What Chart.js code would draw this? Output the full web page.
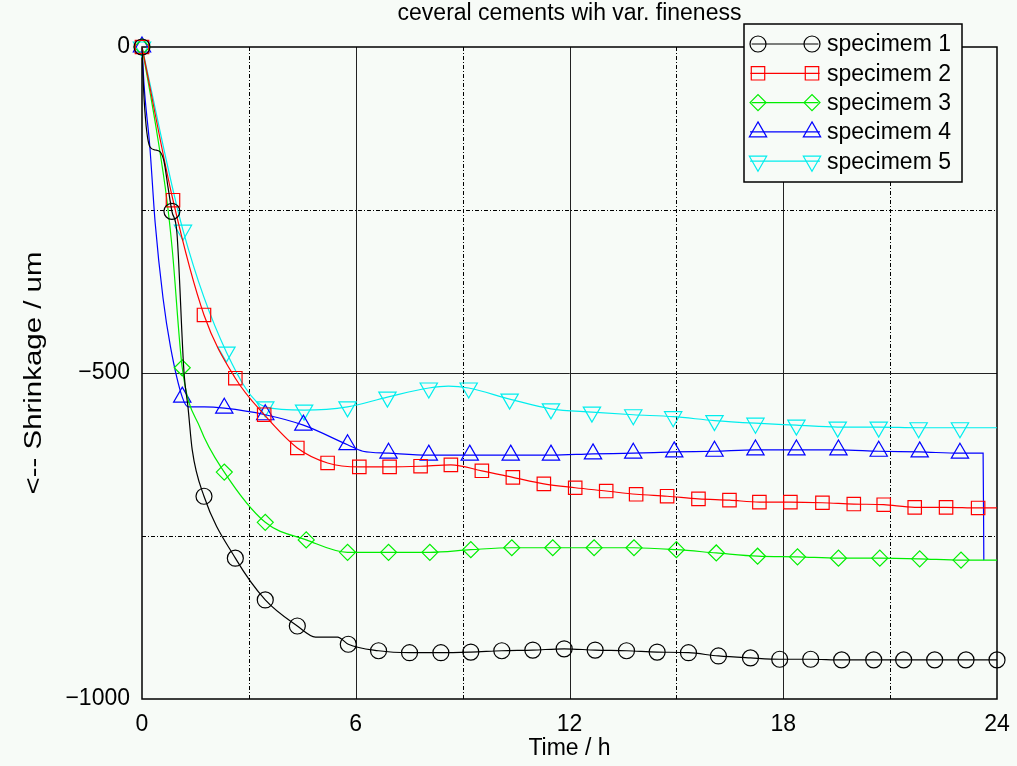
<!DOCTYPE html>
<html>
<head>
<meta charset="utf-8">
<script src="https://cdn.jsdelivr.net/npm/chart.js@4.4.1/dist/chart.umd.min.js"></script>
<style>
    html, body { margin: 0; padding: 0; background: #f7fbf7; }
    canvas { display: block; }
</style>
</head>
<body>
<canvas id="myChart" width="1017" height="766"></canvas>
<script>
// Texts
var chartTitle = 'ceveral cements wih var. fineness';
var xTitle = 'Time / h';
var yTitle = '<-- Shrinkage / um';
var seriesNames = ['specimem 1', 'specimem 2', 'specimem 3', 'specimem 4', 'specimem 5'];

// Axes
var xTicks = [0, 6, 12, 18, 24];
var yTicks = [-1000, -500, 0];
var xGridMajor = [6, 12, 18];
var xGridMinor = [3, 9, 15, 21];
var yGridMajor = [-500];
var yGridMinor = [-250, -750];

// Readings shown with a marker (time in h, shrinkage in um)
var s1Time = [0, 0.84, 1.74, 2.62, 3.46, 4.36, 5.79, 6.64, 7.51, 8.39, 9.23, 10.1, 10.97, 11.85, 12.72, 13.6, 14.46, 15.34, 16.18, 17.08, 17.9, 18.77, 19.64, 20.54, 21.38, 22.25, 23.13, 24];
var s1Shrink = [0, -252, -689, -784, -848, -888, -916, -926, -929, -929, -928, -926, -925, -923, -925, -926, -928, -929, -934, -937, -939, -939, -940, -940, -940, -940, -940, -940];
var s2Time = [0, 0.87, 1.74, 2.62, 3.43, 4.36, 5.21, 6.1, 6.95, 7.82, 8.67, 9.54, 10.41, 11.28, 12.16, 13.03, 13.87, 14.74, 15.62, 16.49, 17.33, 18.2, 19.1, 19.98, 20.82, 21.69, 22.57, 23.47];
var s2Shrink = [0, -235, -411, -508, -564, -615, -638, -644, -644, -643, -641, -650, -660, -670, -676, -681, -686, -689, -693, -695, -698, -698, -699, -701, -702, -706, -706, -707];
var s3Time = [0, 1.13, 2.31, 3.46, 4.61, 5.77, 6.92, 8.08, 9.23, 10.38, 11.53, 12.69, 13.81, 15.0, 16.12, 17.28, 18.4, 19.55, 20.71, 21.83, 22.99];
var s3Shrink = [0, -492, -652, -729, -756, -775, -775, -775, -771, -768, -768, -768, -768, -771, -776, -781, -782, -784, -784, -785, -787];
var s4Time = [0, 1.13, 2.31, 3.46, 4.53, 5.77, 6.92, 8.05, 9.2, 10.35, 11.48, 12.66, 13.79, 14.94, 16.07, 17.22, 18.37, 19.55, 20.68, 21.83, 22.96];
var s4Shrink = [0, -537, -554, -564, -580, -610, -623, -626, -626, -626, -626, -624, -623, -621, -620, -618, -618, -618, -620, -621, -623];
var s5Time = [0, 1.15, 2.37, 3.46, 4.55, 5.77, 6.89, 8.05, 9.17, 10.32, 11.48, 12.63, 13.79, 14.91, 16.07, 17.22, 18.37, 19.53, 20.68, 21.8, 22.96];
var s5Shrink = [0, -281, -468, -552, -557, -552, -537, -523, -523, -540, -555, -560, -564, -567, -573, -577, -580, -583, -583, -584, -584];

// Readings between the markers (line only)
var s1ExtraTime = [0.06, 0.22, 0.37, 0.51, 0.62, 0.73, 0.98, 1.18, 1.29, 1.41, 4.87, 5.49];
var s1ExtraShrink = [-81, -153, -158, -161, -176, -215, -285, -500, -552, -618, -905, -905];
var s2ExtraTime = [24];
var s2ExtraShrink = [-707];
var s3ExtraTime = [0.42, 0.7, 0.85, 1.63, 24];
var s3ExtraShrink = [-132, -235, -311, -584, -787];
var s4ExtraTime = [0.06, 0.22, 0.37, 0.59, 0.8, 1.3, 1.75, 6.2, 23.61, 23.63];
var s4ExtraShrink = [-60, -153, -270, -385, -460, -552, -552, -620, -623, -787];
var s5ExtraTime = [8.6, 24];
var s5ExtraShrink = [-520, -584];

var bgColor = '#f7fbf7';
var fontFamily = '"Liberation Sans", Arial, Helvetica, sans-serif';
var textFont = {family: fontFamily, size: 23};

var series = [
    {color: '#000000', style: 'circle', radius: 8, down: false, t: s1Time, v: s1Shrink, et: s1ExtraTime, ev: s1ExtraShrink},
    {color: '#ff0000', style: 'rect', radius: 9.5, down: false, t: s2Time, v: s2Shrink, et: s2ExtraTime, ev: s2ExtraShrink},
    {color: '#00ee00', style: 'rectRot', radius: 8, down: false, t: s3Time, v: s3Shrink, et: s3ExtraTime, ev: s3ExtraShrink},
    {color: '#0000ff', style: 'triangle', radius: 10, down: false, t: s4Time, v: s4Shrink, et: s4ExtraTime, ev: s4ExtraShrink},
    {color: '#00eeee', style: 'triangle', radius: 10, down: true, t: s5Time, v: s5Shrink, et: s5ExtraTime, ev: s5ExtraShrink}
];

function toPoints(times, values) {
    var pts = [];
    for (var i = 0; i < times.length; i++) {
        pts.push({x: times[i], y: values[i]});
    }
    return pts;
}

function linePoints(times, values, extraTimes, extraValues) {
    return toPoints(times.concat(extraTimes), values.concat(extraValues))
        .sort(function (a, b) { return a.x - b.x; });
}

var datasets = [];
series.forEach(function (s, i) {
    // the curve itself
    datasets.push({
        label: seriesNames[i],
        data: linePoints(s.t, s.v, s.et, s.ev),
        borderColor: s.color,
        borderWidth: 1.2,
        pointRadius: 0,
        cubicInterpolationMode: 'monotone',
        fill: false
    });
    // the markers on it
    datasets.push({
        label: seriesNames[i] + ' markers',
        data: toPoints(s.t, s.v),
        showLine: false,
        pointStyle: s.style,
        pointRadius: s.radius,
        pointRotation: s.down ? 180 : 0,
        pointBorderColor: s.color,
        pointBackgroundColor: 'rgba(0,0,0,0)',
        pointBorderWidth: 1.2,
        clip: false
    });
});

function drawMarker(ctx, s, x, y) {
    var r = s.radius;
    ctx.beginPath();
    if (s.style === 'circle') {
        ctx.arc(x, y, r, 0, Math.PI * 2);
    } else if (s.style === 'rect') {
        var h = r * Math.SQRT1_2;
        ctx.rect(x - h, y - h, 2 * h, 2 * h);
    } else if (s.style === 'rectRot') {
        ctx.moveTo(x - r, y);
        ctx.lineTo(x, y - r);
        ctx.lineTo(x + r, y);
        ctx.lineTo(x, y + r);
        ctx.closePath();
    } else {
        var d = s.down ? -1 : 1;
        ctx.moveTo(x, y - d * r);
        ctx.lineTo(x + r * 0.866, y + d * r / 2);
        ctx.lineTo(x - r * 0.866, y + d * r / 2);
        ctx.closePath();
    }
    ctx.stroke();
}

var backgroundPlugin = {
    id: 'background',
    beforeDraw: function (chart) {
        var ctx = chart.ctx;
        ctx.save();
        ctx.fillStyle = bgColor;
        ctx.fillRect(0, 0, chart.width, chart.height);
        ctx.restore();
    }
};

// solid grid on major values, dotted grid on minor values, box round the plot
var gridPlugin = {
    id: 'plotGrid',
    beforeDatasetsDraw: function (chart) {
        var ctx = chart.ctx;
        var area = chart.chartArea;
        var xs = chart.scales.x;
        var ys = chart.scales.y;

        function vLine(v) {
            var px = Math.round(xs.getPixelForValue(v)) + 0.5;
            ctx.beginPath();
            ctx.moveTo(px, area.top);
            ctx.lineTo(px, area.bottom);
            ctx.stroke();
        }
        function hLine(v) {
            var py = Math.round(ys.getPixelForValue(v)) + 0.5;
            ctx.beginPath();
            ctx.moveTo(area.left, py);
            ctx.lineTo(area.right, py);
            ctx.stroke();
        }

        ctx.save();
        ctx.strokeStyle = '#000000';
        ctx.lineWidth = 1;
        ctx.setLineDash([4, 2, 1, 2]);
        xGridMinor.forEach(vLine);
        yGridMinor.forEach(hLine);
        ctx.setLineDash([]);
        ctx.strokeStyle = '#222222';
        xGridMajor.forEach(vLine);
        yGridMajor.forEach(hLine);

        ctx.strokeStyle = '#000000';
        ctx.lineWidth = 1.5;
        ctx.strokeRect(area.left, area.top, area.right - area.left, area.bottom - area.top);
        ctx.restore();
    }
};

var legendTitlePlugin = {
    id: 'legendTitle',
    afterDatasetsDraw: function (chart) {
        var ctx = chart.ctx;
        var area = chart.chartArea;

        ctx.save();
        // title, centred over the plot
        ctx.fillStyle = '#000000';
        ctx.font = '23px ' + fontFamily;
        ctx.textAlign = 'center';
        ctx.textBaseline = 'middle';
        ctx.fillText(chartTitle, (area.left + area.right) / 2, 14);

        // y axis title, rotated and a bit stretched along its run
        ctx.save();
        ctx.translate(35, (area.top + area.bottom) / 2);
        ctx.rotate(-Math.PI / 2);
        ctx.scale(1.28, 1);
        ctx.fillText(yTitle, 0, 0);
        ctx.restore();

        // legend box
        var boxRight = area.right - 35;
        var boxLeft = boxRight - 218;
        var boxTop = area.top - 23;
        var boxBottom = boxTop + 158;
        ctx.fillStyle = bgColor;
        ctx.fillRect(boxLeft, boxTop, boxRight - boxLeft, boxBottom - boxTop);
        ctx.strokeStyle = '#000000';
        ctx.lineWidth = 1.5;
        ctx.strokeRect(boxLeft, boxTop, boxRight - boxLeft, boxBottom - boxTop);

        series.forEach(function (s, i) {
            var y = boxTop + 20 + i * 29.3;
            var m1 = boxLeft + 14;
            var m2 = boxLeft + 68;
            ctx.strokeStyle = s.color;
            ctx.lineWidth = 1.2;
            ctx.beginPath();
            ctx.moveTo(m1 - s.radius * 0.8, y);
            ctx.lineTo(m2 + s.radius * 0.8, y);
            ctx.stroke();
            drawMarker(ctx, s, m1, y);
            drawMarker(ctx, s, m2, y);
            ctx.fillStyle = '#000000';
            ctx.textAlign = 'left';
            ctx.fillText(seriesNames[i], boxLeft + 83, y + 1);
        });
        ctx.restore();
    }
};

function minusLabel(v) {
    return v < 0 ? '\u2212' + Math.abs(v) : String(v);
}

var ctx = document.getElementById('myChart');
var myChart = new Chart(ctx, {
    type: 'line',
    data: {datasets: datasets},
    options: {
        responsive: false,
        animation: false,
        devicePixelRatio: 1,
        layout: {padding: {top: 47, right: 20, left: 0, bottom: 0}},
        plugins: {
            legend: {display: false},
            tooltip: {enabled: false},
            title: {display: false}
        },
        scales: {
            x: {
                type: 'linear',
                min: xTicks[0],
                max: xTicks[xTicks.length - 1],
                grid: {display: false, drawTicks: false},
                border: {display: false},
                afterBuildTicks: function (scale) {
                    scale.ticks = xTicks.map(function (v) { return {value: v}; });
                },
                ticks: {padding: 12, color: '#000000', font: textFont, maxRotation: 0},
                title: {display: true, text: xTitle, color: '#000000', font: textFont, padding: {top: 0, bottom: 4}},
                afterFit: function (scale) {
                    scale.height = 67;
                    // the plot edges are fixed by the layout padding alone
                    scale.paddingLeft = 0;
                    scale.paddingRight = 0;
                }
            },
            y: {
                type: 'linear',
                min: yTicks[0],
                max: yTicks[yTicks.length - 1],
                grid: {display: false, drawTicks: false},
                border: {display: false},
                afterBuildTicks: function (scale) {
                    scale.ticks = yTicks.map(function (v) { return {value: v}; });
                },
                ticks: {padding: 12, color: '#000000', font: textFont, callback: minusLabel},
                title: {display: false},
                afterFit: function (scale) {
                    scale.width = 142;
                    scale.paddingTop = 0;
                    scale.paddingBottom = 0;
                }
            }
        }
    },
    plugins: [backgroundPlugin, gridPlugin, legendTitlePlugin]
});
</script>
</body>
</html>
